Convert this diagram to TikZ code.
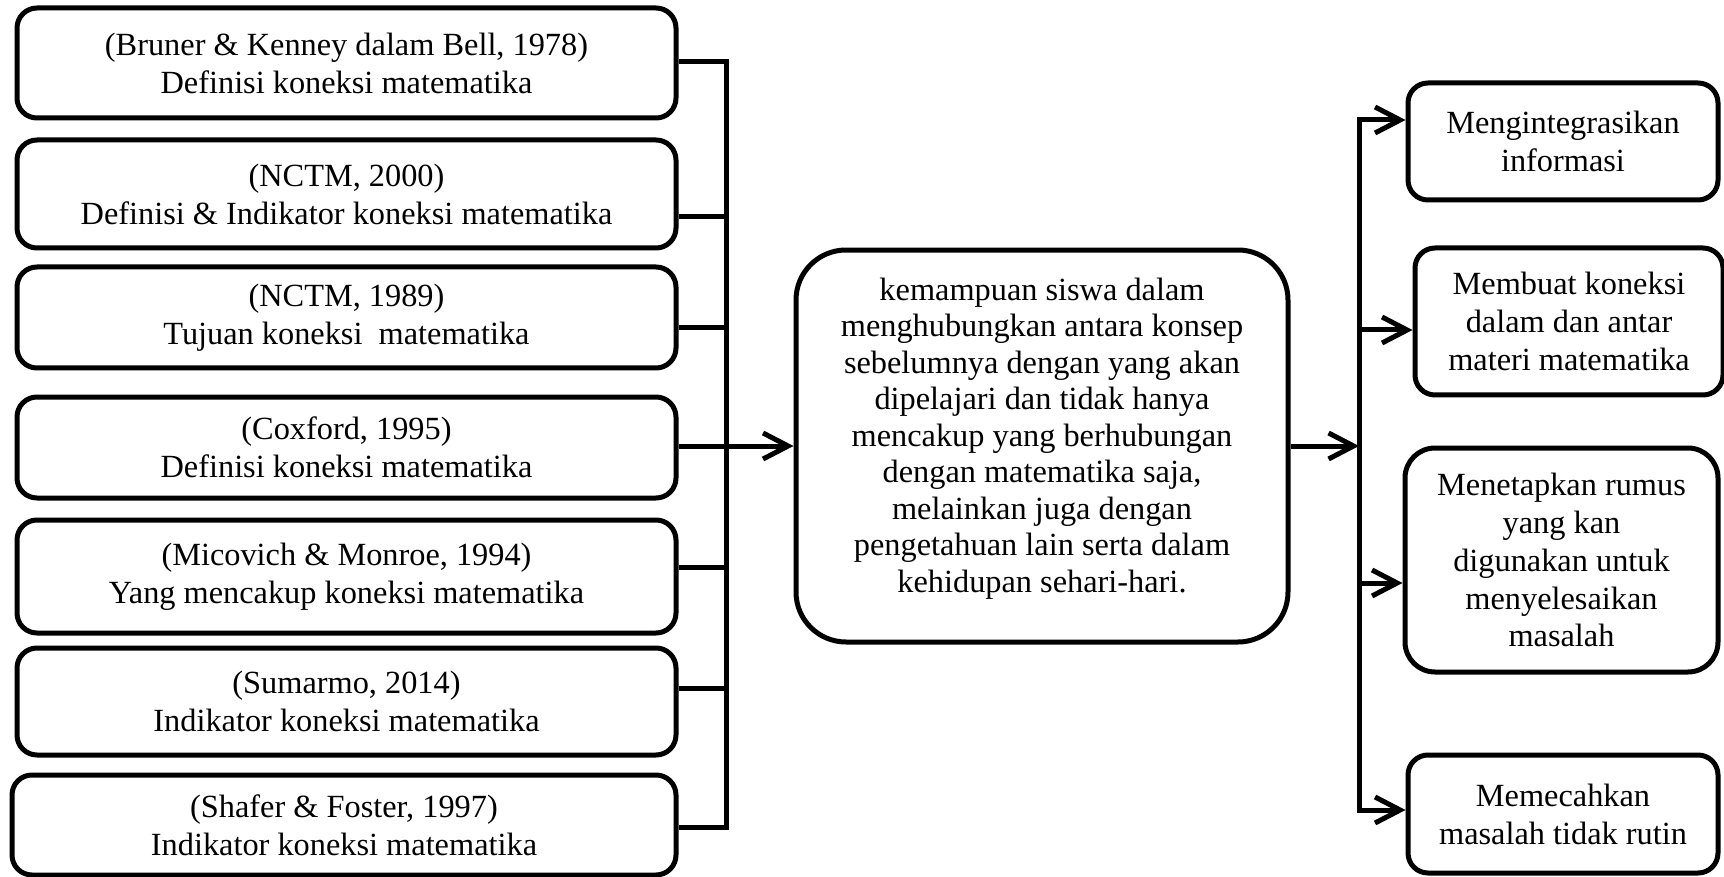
\documentclass[tikz,border=0pt]{standalone}
\usepackage{fontspec}
\setmainfont{Liberation Serif}
\usetikzlibrary{arrows.meta,calc}

\begin{document}
\begin{tikzpicture}[
  x=0.1mm, y=-0.1mm,
  font=\fontsize{9.2}{10.8}\selectfont,
  src/.style={draw, line width=0.5mm, rounded corners=2mm, minimum width=65.9mm, align=center, inner sep=1mm},
  aim/.style={draw, line width=0.5mm, rounded corners=2mm, minimum width=31mm, align=center, inner sep=1mm},
  link/.style={line width=0.5mm},
  arr/.style={-{Straight Barb[length=2.5mm,width=2.6mm]}, line width=0.5mm},
]
\useasboundingbox (0,0) rectangle (1724,877);

% sumber (kiri)
\node[src, minimum height=11mm] (b1) at (346.5,63) {(Bruner \& Kenney dalam Bell, 1978)\\Definisi koneksi matematika};
\node[src, minimum height=10.8mm] (b2) at (346.5,194) {(NCTM, 2000)\\Definisi \& Indikator koneksi matematika};
\node[src, minimum height=10.1mm] (b3) at (346.5,317.5) {(NCTM, 1989)\\Tujuan koneksi\ \ matematika};
\node[src, minimum height=10.1mm] (b4) at (346.5,447.5) {(Coxford, 1995)\\Definisi koneksi matematika};
\node[src, minimum height=11.3mm] (b5) at (346.5,576.5) {(Micovich \& Monroe, 1994)\\Yang mencakup koneksi matematika};
\node[src, minimum height=10.7mm] (b6) at (346.5,701.5) {(Sumarmo, 2014)\\Indikator koneksi matematika};
\node[src, minimum width=66.4mm, minimum height=10mm] (b7) at (344,825) {(Shafer \& Foster, 1997)\\Indikator koneksi matematika};

% definisi (tengah)
\node[draw, line width=0.5mm, rounded corners=5mm, minimum width=49.2mm, minimum height=39.2mm, align=center,
  text depth=2.2mm, font=\fontsize{9.2}{10.4}\selectfont] (mid) at (1042,446)
  {kemampuan siswa dalam\\menghubungkan antara konsep\\sebelumnya dengan yang akan\\dipelajari dan tidak hanya\\mencakup yang berhubungan\\dengan matematika saja,\\melainkan juga dengan\\pengetahuan lain serta dalam\\kehidupan sehari-hari.};

% indikator (kanan)
\node[aim, minimum height=11.7mm] (r1) at (1563,141.5) {Mengintegrasikan\\informasi};
\node[aim, minimum width=30.8mm, minimum height=14.7mm] (r2) at (1569,321.5) {Membuat koneksi\\dalam dan antar\\materi matematika};
\node[aim, rounded corners=3mm, minimum width=31.3mm, minimum height=22.4mm] (r3) at (1561.5,560) {Menetapkan rumus\\yang kan\\digunakan untuk\\menyelesaikan\\masalah};
\node[aim, minimum height=11.8mm] (r4) at (1563,814) {Memecahkan\\masalah tidak rutin};

% garis penghubung
\coordinate (lb) at (726,0);
\coordinate (rb) at (1359,0);
\foreach \n/\s in {b1/-1,b2/23,b3/10.5,b4/-1.5,b5/-9.5,b6/-13.5,b7/2}
  \coordinate (\n j) at ($(\n.east)+(0,\s)$);
\foreach \n/\s in {r1/-21.5,r2/8.5,r3/23,r4/-4}
  \coordinate (\n j) at ($(\n.west)+(0,\s)$);

\draw[link] (b1j) -| (lb |- b7j) -- (b7j);
\foreach \n in {b2,b3,b4,b5,b6}
  \draw[link] (\n j) -- (\n j -| lb);
\draw[arr] (lb |- mid.west) -- (mid.west);

\draw[arr] (mid.east) -- (mid.east -| rb);
\draw[link, line cap=rect] (rb |- r1j) -- (rb |- r4j);
\foreach \n in {r1,r2,r3,r4}
  \draw[arr] (rb |- \n j) -- (\n j);
\end{tikzpicture}
\end{document}
